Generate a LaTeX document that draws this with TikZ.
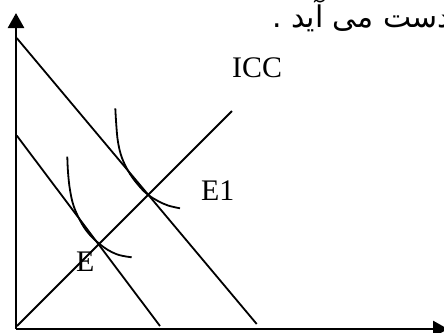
\documentclass[tikz,border=0pt]{standalone}
\usepackage{fontspec}
\setmainfont{Liberation Serif}
\newfontfamily\arabicfont[Script=Arabic]{DejaVu Sans}
\TeXXeTstate=1
\usetikzlibrary{arrows.meta}
\begin{document}
\begin{tikzpicture}[x=1bp,y=-1bp,
  axisline/.style={line width=2.6bp,-{Triangle[length=15bp,width=16bp]}},
  thinline/.style={line width=1.8bp},
  lbl/.style={font=\fontsize{30}{30}\selectfont,inner sep=0pt,anchor=base west},
  ptxt/.style={font=\fontsize{30}{30}\selectfont\arabicfont,inner sep=0pt,anchor=base west}]
\useasboundingbox (0,0) rectangle (444,332);
\begin{scope}
\clip (0,0) rectangle (444,332);
% axes
\coordinate (O) at (16,329);
\coordinate (Ytop) at (16,13);
\coordinate (Xend) at (448,329);
\draw[axisline] (O) -- (Ytop);
\draw[axisline] (O) -- (Xend);
% budget lines
\coordinate (A1) at (16.7,38);
\coordinate (B1) at (256.7,324);
\coordinate (A2) at (16.7,135.5);
\coordinate (B2) at (160,326);
\draw[thinline] (A1) -- (B1);
\draw[thinline] (A2) -- (B2);
% ICC
\coordinate (C0) at (17,326);
\coordinate (C1) at (232,111);
\draw[thinline] (C0) -- (C1);
% indifference curves
\draw[thinline] plot[smooth,tension=0.6] coordinates {(115.3,108.3) (116.3,125) (118,142) (122,158) (130,174) (140,187) (148.3,195) (158,201) (168,205.5) (180,208.3)};
\draw[thinline] plot[smooth,tension=0.6] coordinates {(67.3,156.7) (68,172) (70,190) (74,207) (82,224) (90,235) (99,243.5) (108,250) (119,255) (131.7,257.3)};
% labels
\node[lbl] (icc) at (232,77) {ICC};
\node[lbl] (e1) at (201,200) {E1};
\node[lbl] (e) at (76,271) {E};
\node[ptxt] (txt) at (272,27) {\beginR بدست می آید .\endR};
\end{scope}
\end{tikzpicture}
\end{document}
